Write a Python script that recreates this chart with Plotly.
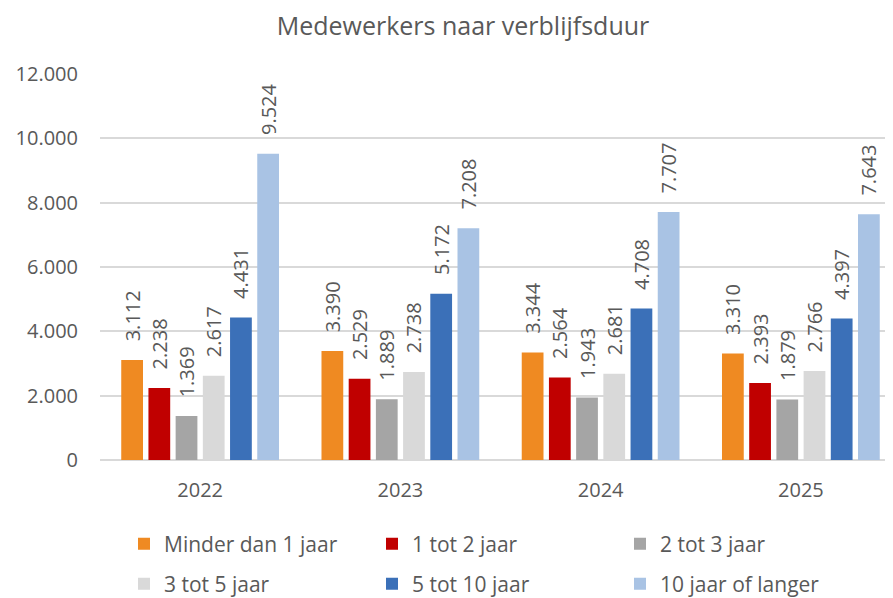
import plotly.graph_objects as go

years = ["2022", "2023", "2024", "2025"]
series_names = ["Minder dan 1 jaar", "1 tot 2 jaar", "2 tot 3 jaar",
                "3 tot 5 jaar", "5 tot 10 jaar", "10 jaar of langer"]
minder_1 = [3112, 3390, 3344, 3310]
tot_2 = [2238, 2529, 2564, 2393]
tot_3 = [1369, 1889, 1943, 1879]
tot_5 = [2617, 2738, 2681, 2766]
tot_10 = [4431, 5172, 4708, 4397]
langer_10 = [9524, 7208, 7707, 7643]
tick_vals = [0, 2000, 4000, 6000, 8000, 10000, 12000]

values = [minder_1, tot_2, tot_3, tot_5, tot_10, langer_10]
colors = ["#EF8A22", "#C00000", "#A5A5A5", "#D9D9D9", "#3B70B8", "#A9C3E4"]
FONT = "Open Sans"
GREY = "#595959"

fig = go.Figure()
for i, (name, vals, col) in enumerate(zip(series_names, values, colors)):
    fig.add_trace(go.Bar(
        x=years, y=vals, name=name,
        marker=dict(color=col, line=dict(width=0)),
        text=vals,
        texttemplate="\u00a0\u00a0\u00a0%{y:,}",
        textposition="outside", textangle=-90, constraintext="none",
        cliponaxis=False,
        textfont=dict(family=FONT, size=20, color=GREY),
        legend="legend" if i < 3 else "legend2",
    ))

legend_common = dict(orientation="h", xref="container", yref="container",
                     x=116/893, xanchor="left", yanchor="middle",
                     entrywidth=203, entrywidthmode="pixels",
                     font=dict(family=FONT, size=21, color=GREY),
                     traceorder="normal")

fig.update_layout(
    width=893, height=598,
    separators=",.",
    barmode="group", bargap=0.185, bargroupgap=0.2,
    paper_bgcolor="white", plot_bgcolor="white",
    margin=dict(l=92, r=0, t=66, b=146, autoexpand=False),
    font=dict(family=FONT, color=GREY),
    title=dict(text="Medewerkers naar verblijfsduur", x=455/893, xanchor="center",
               xref="container", y=1 - 18/598, yanchor="middle", yref="container",
               font=dict(family=FONT, size=25, color=GREY)),
    legend=dict(y=1 - 536/598, **legend_common),
    legend2=dict(y=1 - 576/598, **legend_common),
)
fig.update_xaxes(
    type="category", range=[-0.5, 3.5],
    showgrid=False, showline=False, ticks="",
    tickfont=dict(family=FONT, size=20, color=GREY),
    ticklabelstandoff=16,
)
fig.update_yaxes(
    range=[0, 12000], tickvals=tick_vals, tickformat=",",
    showgrid=True, gridcolor="#D9D9D9", gridwidth=1.5,
    zeroline=True, zerolinecolor="#D9D9D9", zerolinewidth=1.5,
    showline=False, ticks="",
    tickfont=dict(family=FONT, size=20, color=GREY),
    ticklabelstandoff=21,
)

fig.write_html("out.html")
